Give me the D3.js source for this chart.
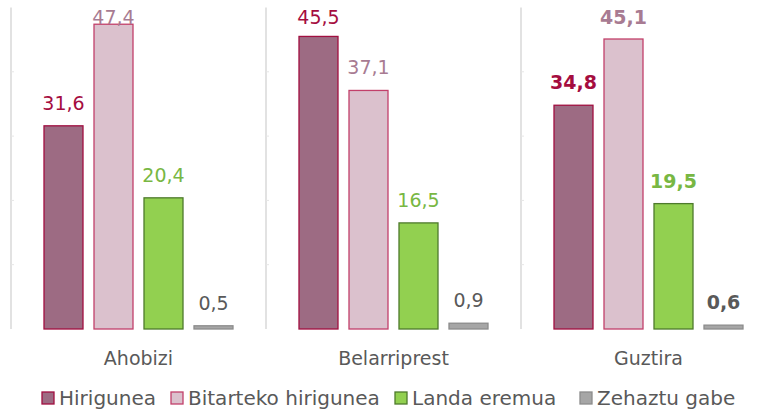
<!DOCTYPE html>
<html>
<head>
<meta charset="utf-8">
<script src="https://cdn.jsdelivr.net/npm/d3@7"></script>
<style>
  body { margin: 0; background: #fff; }
  text { font-family: "DejaVu Sans", sans-serif; }
</style>
</head>
<body>
<div id="chart"></div>
<script>
const categories = ["Ahobizi", "Belarriprest", "Guztira"];
const seriesNames = ["Hirigunea", "Bitarteko hirigunea", "Landa eremua", "Zehaztu gabe"];
const hirigunea = [31.6, 45.5, 34.8];
const bitarteko = [47.4, 37.1, 45.1];
const landa = [20.4, 16.5, 19.5];
const zehaztu = [0.5, 0.9, 0.6];
const yTicks = [0, 10, 20, 30, 40, 50];

const fills = ["#9d6b83", "#dbc1cd", "#92d050", "#a6a6a6"];
const strokes = ["#a10f40", "#c2406a", "#4e7a2c", "#8c8c8c"];
const labelColors = ["#a50d3f", "#a87b92", "#78b743", "#595959"];

const values = [hirigunea, bitarteko, landa, zehaztu];
const rows = [];
categories.forEach((c, ci) => {
  seriesNames.forEach((s, si) => {
    rows.push({ cat: c, ci: ci, series: s, si: si, value: values[si][ci] });
  });
});

const width = 768;
const height = 412;

const x0 = d3.scaleBand().domain(categories).range([11, 776]);
const x1 = d3.scaleBand().domain(seriesNames).range([0, x0.bandwidth()])
  .paddingInner(0.22).paddingOuter(0.66);
const y = d3.scaleLinear().domain([0, 50]).range([329, 7.5]);

const svg = d3.select("#chart")
  .append("svg")
  .attr("width", width)
  .attr("height", height);

// group separators
svg.append("g")
  .selectAll("line")
  .data(categories)
  .join("line")
  .attr("x1", (d) => x0(d))
  .attr("x2", (d) => x0(d))
  .attr("y1", y(50))
  .attr("y2", y(0))
  .attr("stroke", "#d9d9d9")
  .attr("stroke-width", 1.5);

svg.append("g")
  .selectAll("g")
  .data(categories)
  .join("g")
  .selectAll("line")
  .data((c) => yTicks.slice(1, 5).map((t) => ({ c, t })))
  .join("line")
  .attr("x1", (d) => x0(d.c))
  .attr("x2", (d) => x0(d.c) + 3)
  .attr("y1", (d) => y(d.t))
  .attr("y2", (d) => y(d.t))
  .attr("stroke", "#e6e6e6");

// bars
svg.append("g")
  .selectAll("rect")
  .data(rows)
  .join("rect")
  .attr("x", (d) => x0(d.cat) + x1(d.series))
  .attr("y", (d) => y(d.value))
  .attr("width", x1.bandwidth())
  .attr("height", (d) => y(0) - y(d.value))
  .attr("fill", (d) => fills[d.si])
  .attr("stroke", (d) => strokes[d.si])
  .attr("stroke-width", 1.3);

// value labels
svg.append("g")
  .selectAll("text")
  .data(rows)
  .join("text")
  .attr("x", (d) => x0(d.cat) + x1(d.series) + x1.bandwidth() / 2)
  .attr("y", (d) => Math.max(y(d.value) - 16, 24))
  .attr("text-anchor", "middle")
  .attr("font-size", 19)
  .attr("font-weight", (d) => (d.cat === "Guztira" ? "bold" : "normal"))
  .attr("fill", (d) => labelColors[d.si])
  .text((d) => d3.format(".1f")(d.value).replace(".", ","));

// category labels
svg.append("g")
  .selectAll("text")
  .data(categories)
  .join("text")
  .attr("x", (d) => x0(d) + x0.bandwidth() / 2)
  .attr("y", 365)
  .attr("text-anchor", "middle")
  .attr("font-size", 19)
  .attr("fill", "#595959")
  .text((d) => d);

// legend
const legendX = [42, 171, 395, 580];
const legend = svg.append("g")
  .selectAll("g")
  .data(seriesNames)
  .join("g")
  .attr("transform", (d, i) => "translate(" + legendX[i] + ",392)");

legend.append("rect")
  .attr("width", 12)
  .attr("height", 12)
  .attr("fill", (d, i) => fills[i])
  .attr("stroke", (d, i) => strokes[i])
  .attr("stroke-width", 1.3);

legend.append("text")
  .attr("x", 17)
  .attr("y", 13)
  .attr("font-size", 20)
  .attr("fill", "#595959")
  .text((d) => d);
</script>
</body>
</html>
